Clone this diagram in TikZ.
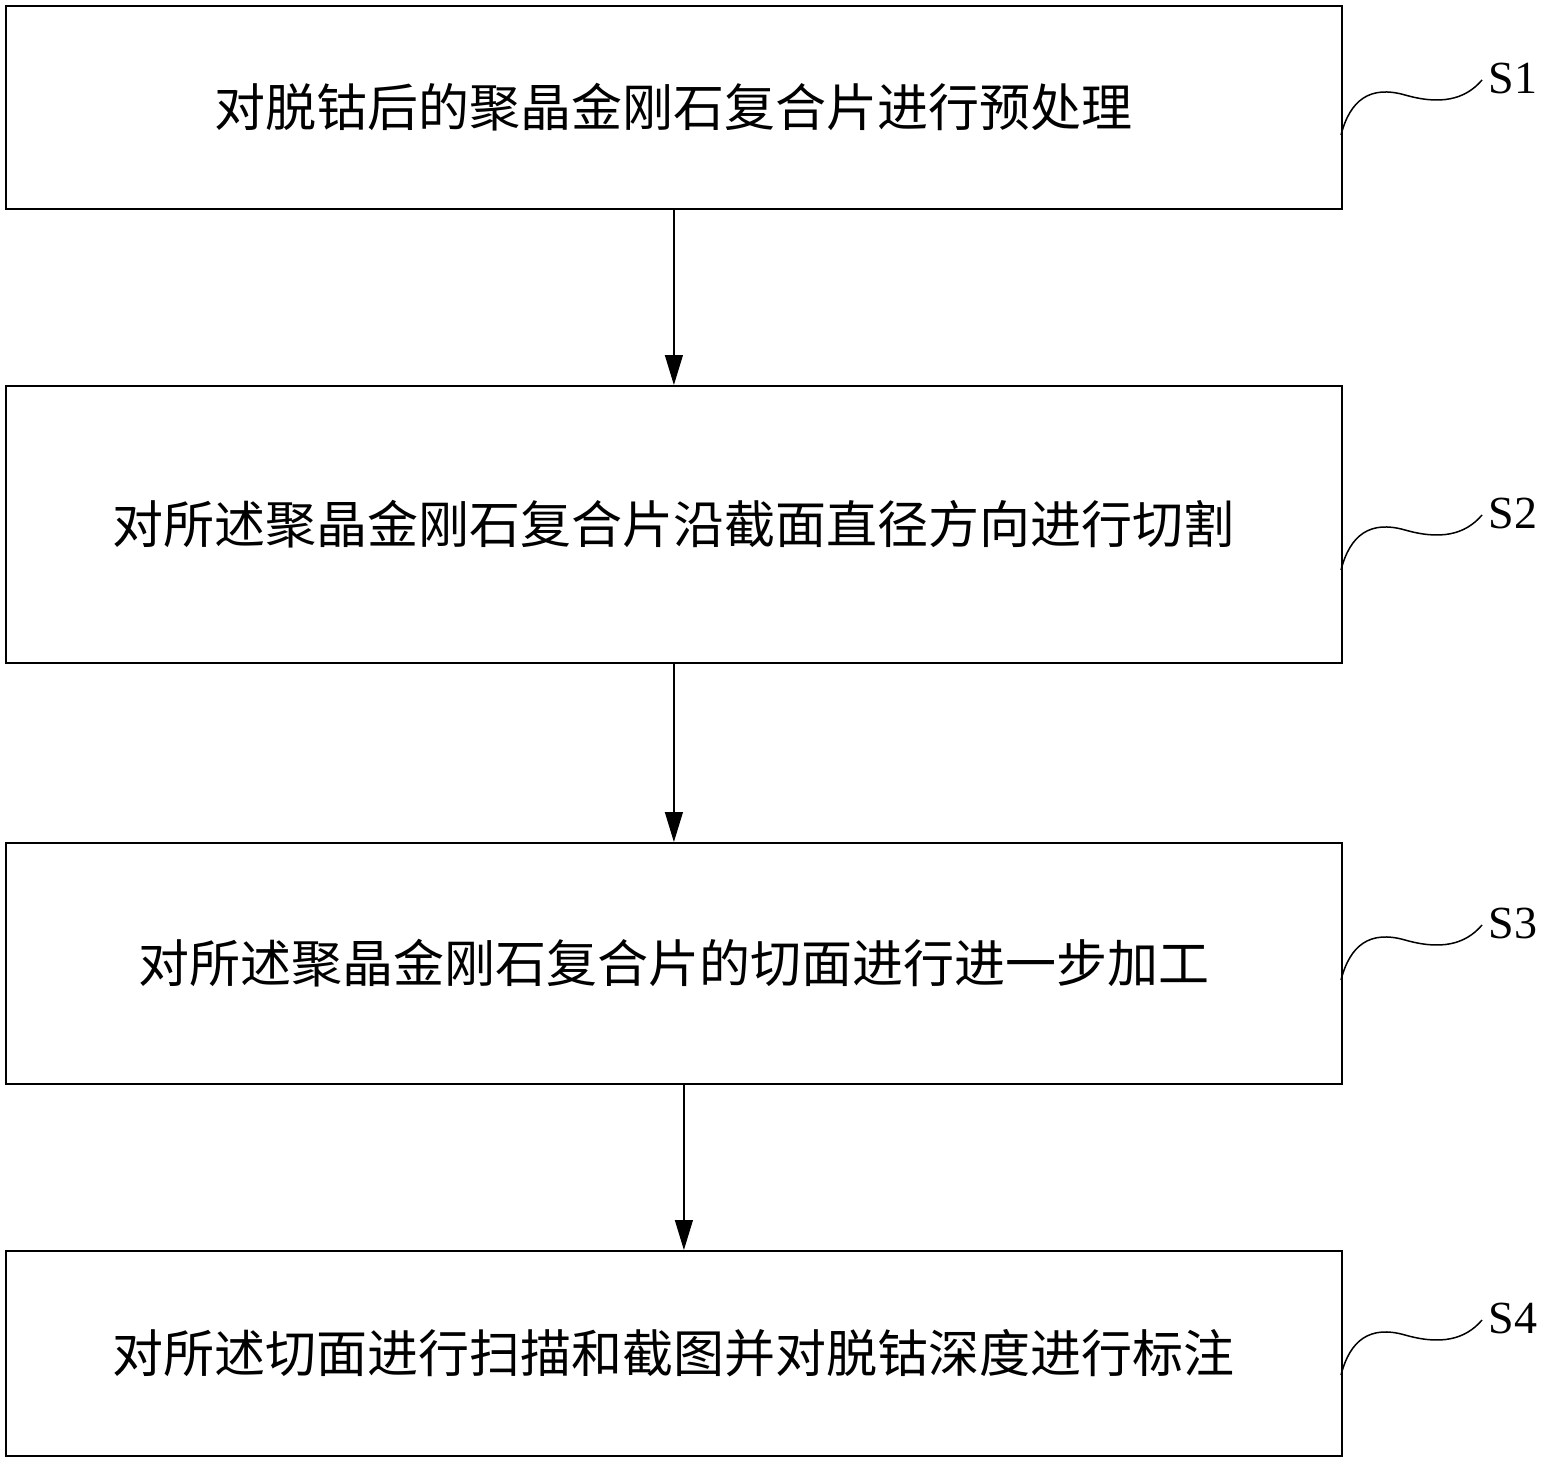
\documentclass[tikz,border=0pt]{standalone}
\usepackage{fontspec}
\setmainfont{Liberation Serif}
\newfontfamily\cjk{Noto Sans CJK SC}
\usetikzlibrary{arrows.meta}

\tikzset{
    stepbox/.style={draw, line width=1.8pt, anchor=north west, inner sep=0pt, font=\cjk\fontsize{51}{56}\selectfont},
    flow/.style={line width=1.2pt, -{Triangle[length=30pt,width=18pt]}},
    wave/.style={line width=1.5pt}
}

\begin{document}
\begin{tikzpicture}[x=1pt,y=-1pt]
    \useasboundingbox (0, 0) rectangle (1557, 1463);

    \node [stepbox, minimum width=1336pt, minimum height=203pt] (s1) at (5, 5) {对脱钴后的聚晶金刚石复合片进行预处理};
    \node [stepbox, minimum width=1336pt, minimum height=277pt] (s2) at (5, 385) {对所述聚晶金刚石复合片沿截面直径方向进行切割};
    \node [stepbox, minimum width=1336pt, minimum height=241pt] (s3) at (5, 842) {对所述聚晶金刚石复合片的切面进行进一步加工};
    \node [stepbox, minimum width=1336pt, minimum height=205pt] (s4) at (5, 1250) {对所述切面进行扫描和截图并对脱钴深度进行标注};

    \draw [flow] (s1) -- (s2);
    \draw [flow] (s2) -- (s3);
    \draw [flow] ([xshift=10pt]s3.south) -- ([xshift=10pt]s4.north);

    % step labels with wavy leaders
    \foreach \n/\y/\lab in {1/80/S1, 2/515/S2, 3/925/S3, 4/1320/S4} {
        \coordinate (w\n) at (1341, \y+55);
        \draw [wave] (w\n) .. controls (1350, \y+20) and (1370, \y+5) .. (1405, \y+15)
                     .. controls (1440, \y+25) and (1465, \y+20) .. (1482, \y);
        \node [font=\fontsize{46}{50}\selectfont, anchor=west] (l\n) at (1485, \y-2) {\lab};
    }
\end{tikzpicture}
\end{document}
